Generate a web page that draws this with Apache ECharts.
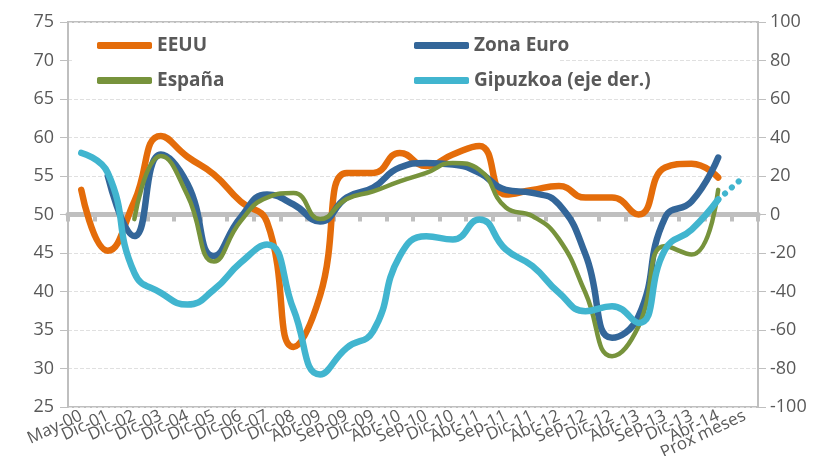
<!DOCTYPE html>
<html>
<head>
<meta charset="utf-8">
<script src="https://cdn.jsdelivr.net/npm/echarts@6/dist/echarts.min.js"></script>
<style>
  html, body { margin: 0; padding: 0; background: #fff; }
  #chart { width: 829px; height: 456px; }
</style>
</head>
<body>
<div id="chart"></div>
<script>
const categories = ['May-00', 'Dic-01', 'Dic-02', 'Dic-03', 'Dic-04', 'Dic-05', 'Dic-06', 'Dic-07', 'Dic-08',
  'Abr-09', 'Sep-09', 'Dic-09', 'Abr-10', 'Sep-10', 'Dic-10', 'Abr-11', 'Sep-11', 'Dic-11',
  'Abr-12', 'Sep-12', 'Dic-12', 'Abr-13', 'Sep-13', 'Dic-13', 'Abr-14', 'Prox meses']

const eeuu = [53.2, 45.3, 51.7, 60.2, 57.5, 55.2, 51.7, 49.0, 32.8, 39.5, 55.4, 55.4, 58.0,
  56.3, 57.8, 58.9, 52.6, 53.2, 53.7, 52.2, 52.2, 50.0, 56.1, 56.6, 54.8, null]
const zonaEuro = [null, 55.0, 47.2, 57.8, 54.0, 44.6, 49.6, 52.6, 51.3, 49.1, 52.2, 53.5, 56.1,
  56.7, 56.5, 55.4, 53.2, 52.8, 51.3, 44.8, 34.0, 36.8, 49.6, 51.7, 57.4, null]
const espana = [null, null, 49.4, 57.6, 52.5, 43.9, 49.1, 52.2, 52.8, 49.4, 52.0, 53.0, 54.3,
  55.4, 56.7, 55.8, 50.9, 49.8, 46.8, 39.8, 31.6, 35.5, 45.9, 44.8, 53.2, null]
// eje derecho
const gipuzkoa = [32.0, 21.6, -30.3, -40.7, -46.8, -39.0, -25.1, -15.6, -49.4, -83.1, -69.3, -60.6, -21.6,
  -11.3, -13.0, -2.6, -18.2, -26.8, -40.7, -50.2, -47.6, -56.3, -18.2, -7.8, 7.8, null]
const gipuzkoaProx = [null, null, null, null, null, null, null, null, null, null, null, null, null,
  null, null, null, null, null, null, null, null, null, null, null, 7.8, 20.0]

const leftTicks = { min: 25, max: 75, interval: 5 }
const rightTicks = { min: -100, max: 100, interval: 20 }

const textColor = '#595959'
const axisGray = '#bfbfbf'
const font = 'Open Sans'

const chart = echarts.init(document.getElementById('chart'))

function lineSeries(name, data, color, width, yIndex) {
  return {
    name: name,
    type: 'line',
    data: data,
    yAxisIndex: yIndex,
    smooth: true,
    showSymbol: false,
    connectNulls: false,
    itemStyle: { color: color },
    lineStyle: { color: color, width: width, cap: 'round', join: 'round' }
  }
}

const legendText = { color: textColor, fontFamily: font, fontWeight: 'bold', fontSize: 19 }

chart.setOption({
  animation: false,
  grid: {
    left: 68,
    right: 71,
    top: 22,
    bottom: 49,
    outerBoundsMode: 'none',
    show: true,
    borderColor: axisGray,
    borderWidth: 2
  },
  graphic: [{
    type: 'rect',
    left: 74,
    top: 24,
    z: 1,
    shape: { width: 486, height: 74 },
    style: { fill: '#fff' }
  }],
  legend: [
    {
      data: ['EEUU', 'España'],
      orient: 'vertical',
      left: 97,
      top: 36,
      padding: 0,
      itemGap: 16,
      itemWidth: 55,
      itemHeight: 7,
      icon: 'roundRect',
      textStyle: legendText
    },
    {
      data: ['Zona Euro', 'Gipuzkoa (eje der.)'],
      orient: 'vertical',
      left: 414,
      top: 36,
      padding: 0,
      itemGap: 16,
      itemWidth: 55,
      itemHeight: 7,
      icon: 'roundRect',
      textStyle: legendText
    }
  ],
  xAxis: [
    {
      type: 'category',
      data: categories,
      position: 'bottom',
      axisLine: { show: false, onZero: false },
      axisTick: { show: false },
      axisLabel: {
        interval: 0,
        rotate: 25,
        margin: 8,
        color: textColor,
        fontFamily: font,
        fontSize: 17
      }
    },
    {
      type: 'category',
      data: categories,
      position: 'top',
      axisLine: { show: true, onZero: true, onZeroAxisIndex: 1, lineStyle: { color: axisGray, width: 5 } },
      axisTick: { show: true, inside: true, interval: 0, length: 7, lineStyle: { color: axisGray, width: 4 } },
      axisLabel: { show: false },
      splitLine: { show: false }
    }
  ],
  yAxis: [
    {
      type: 'value',
      min: leftTicks.min,
      max: leftTicks.max,
      interval: leftTicks.interval,
      axisLine: { show: true, lineStyle: { color: axisGray, width: 2 } },
      axisTick: { show: true, length: 8, lineStyle: { color: axisGray } },
      axisLabel: { margin: 14, color: textColor, fontFamily: font, fontSize: 18 },
      splitLine: { show: true, lineStyle: { color: '#e0e0e0', type: 'dashed', width: 1 } }
    },
    {
      type: 'value',
      position: 'right',
      min: rightTicks.min,
      max: rightTicks.max,
      interval: rightTicks.interval,
      axisLine: { show: true, lineStyle: { color: axisGray, width: 2 } },
      axisTick: { show: true, length: 8, lineStyle: { color: axisGray } },
      axisLabel: { margin: 12, color: textColor, fontFamily: font, fontSize: 18 },
      splitLine: { show: false }
    }
  ],
  series: [
    lineSeries('EEUU', eeuu, '#E46C0A', 6.5, 0),
    lineSeries('Zona Euro', zonaEuro, '#336699', 6.5, 0),
    lineSeries('España', espana, '#77933C', 4.5, 0),
    lineSeries('Gipuzkoa (eje der.)', gipuzkoa, '#41B5CF', 6.5, 1),
    {
      name: 'Gipuzkoa prox',
      type: 'line',
      data: gipuzkoaProx,
      yAxisIndex: 1,
      showSymbol: false,
      itemStyle: { color: '#41B5CF' },
      lineStyle: { color: '#41B5CF', width: 6, type: [0.1, 9], cap: 'round' }
    }
  ]
})
</script>
</body>
</html>
